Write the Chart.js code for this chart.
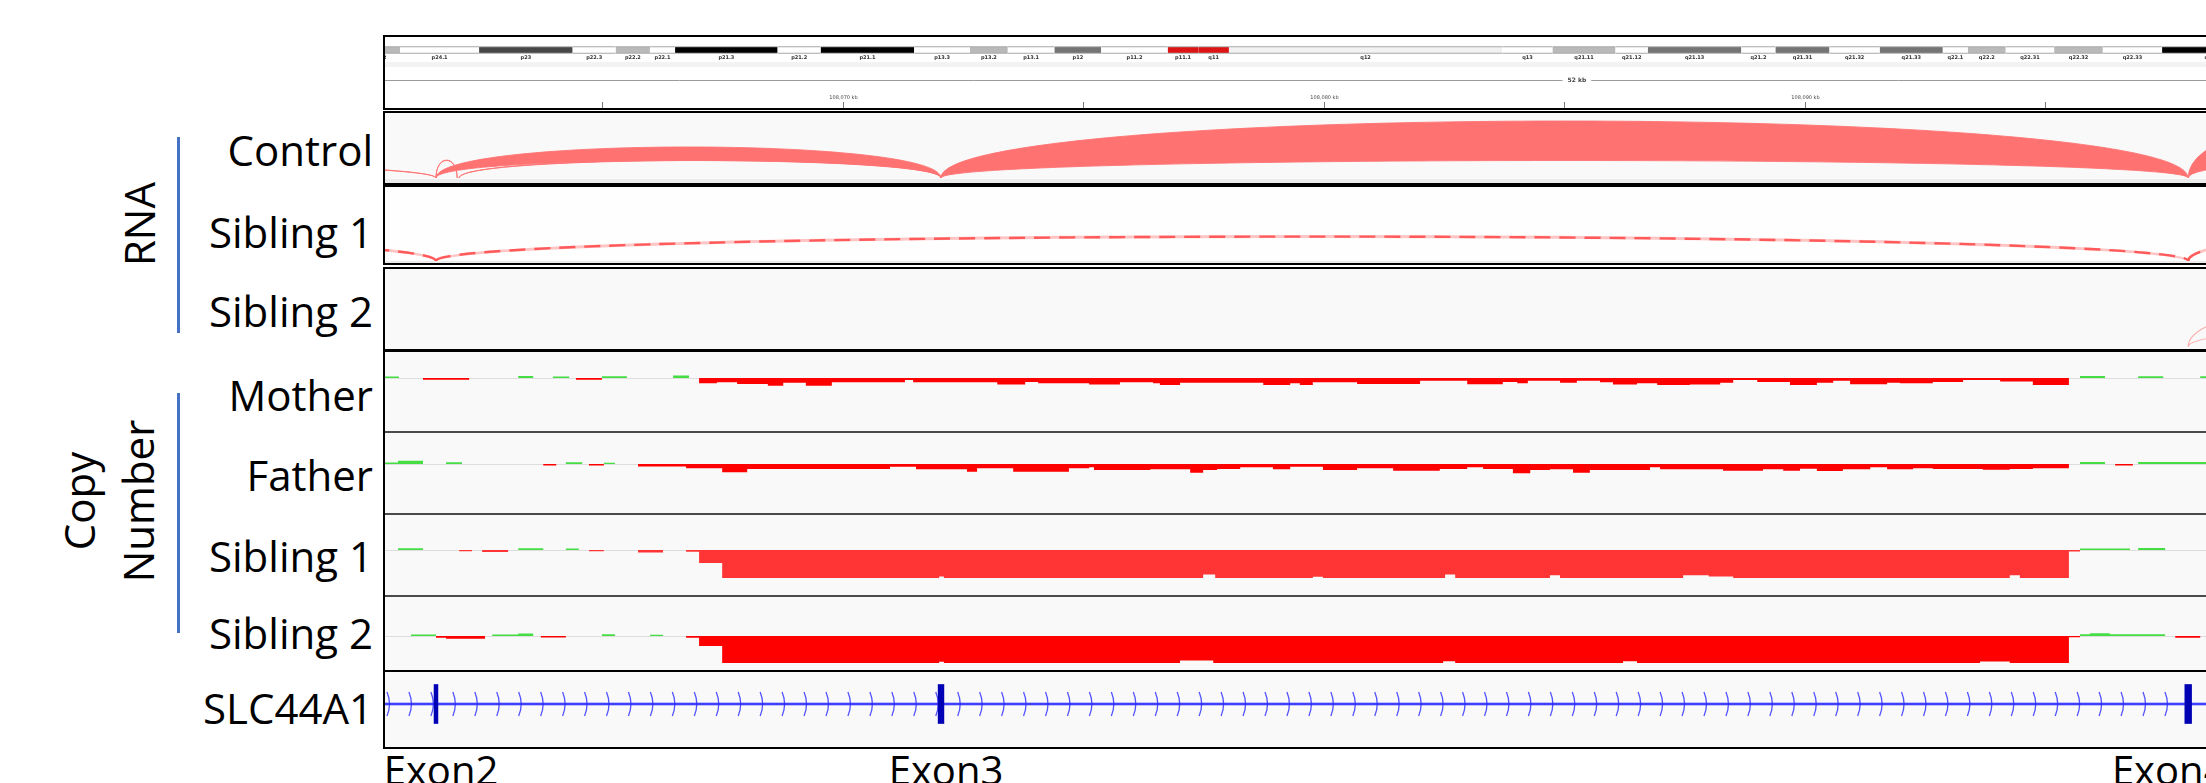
<!DOCTYPE html>
<html>
<head>
<meta charset="utf-8">
<script src="https://cdn.jsdelivr.net/npm/chart.js@4.4.1/dist/chart.umd.min.js"></script>
<style>
html, body { margin: 0; padding: 0; background: #fff; width: 2206px; height: 783px; overflow: hidden; font-family: 'Open Sans', sans-serif; }
.box { position: absolute; box-sizing: border-box; border: 2px solid #000; left: 383px; width: 1840px; background: #f9f9f9; }
.lbl { position: absolute; left: 0; width: 373px; text-align: right; font-size: 42px; line-height: 42px; color: #000; white-space: nowrap; }
.rot { position: absolute; font-size: 42px; color: #000; white-space: nowrap; text-align: center; transform: translate(-50%, -50%) rotate(-90deg); }
.vbar { position: absolute; left: 177px; width: 3px; background: #4472c4; }
.sep { position: absolute; left: 385px; width: 1830px; height: 2px; background: #4a4a4a; }
.exon { position: absolute; top: 749px; font-size: 40px; line-height: 42px; color: #000; white-space: nowrap; transform: translateX(-50%); }
canvas { position: absolute; left: 385px; }
</style>
</head>
<body>

<!-- track frames -->
<div class="box" style="top:35px;height:75px;background:#fff;"></div>
<div style="position:absolute;left:385px;top:62px;width:1830px;height:5px;background:#f3f3f3;"></div>
<div class="box" style="top:111px;height:74px;background:linear-gradient(#f9f9f9 0 66px,#ececec 66px);"></div>
<div class="box" style="top:185px;height:80px;background:linear-gradient(#fefefe 0 74px,#ececec 74px);"></div>
<div class="box" style="top:267px;height:84px;"></div>
<div class="box" style="top:350px;height:322px;"></div>
<div class="sep" style="top:431px;"></div>
<div class="sep" style="top:513px;"></div>
<div class="sep" style="top:595px;"></div>
<div class="box" style="top:670px;height:79px;"></div>

<!-- left labels -->
<div class="rot" style="left:139px;top:224px;line-height:42px;">RNA</div>
<div class="vbar" style="top:137px;height:196px;"></div>
<div class="rot" style="left:108px;top:501px;line-height:59px;">Copy<br>Number</div>
<div class="vbar" style="top:393px;height:240px;"></div>

<div class="lbl" style="top:129px;">Control</div>
<div class="lbl" style="top:211px;">Sibling 1</div>
<div class="lbl" style="top:290px;">Sibling 2</div>
<div class="lbl" style="top:374px;">Mother</div>
<div class="lbl" style="top:454px;">Father</div>
<div class="lbl" style="top:535px;">Sibling 1</div>
<div class="lbl" style="top:612px;">Sibling 2</div>
<div class="lbl" style="top:687px;">SLC44A1</div>

<script>
// view windows
const viewStart = 108060.48;   // kb at the left edge of the data panel
const viewEnd = 108098.34;     // kb at the right edge (figure is cut there)
const viewSpanKb = 52;         // span printed on the IGV ruler
const viewCenterKb = 108085.26;
const ideoStart = 3.766, ideoEnd = 105.04;   // Mb shown in the ideogram strip

// chr9 cytobands (Mb)
const bandName = ['p24.3','p24.2','p24.1','p23','p22.3','p22.2','p22.1','p21.3','p21.2','p21.1','p13.3','p13.2','p13.1','p12','p11.2','p11.1','q11','q12','q13','q21.11','q21.12','q21.13','q21.2','q21.31','q21.32','q21.33','q22.1','q22.2','q22.31','q22.32','q22.33','q31.1','q31.2'];
const bandStart = [0, 2.2, 4.6, 9.0, 14.2, 16.6, 18.5, 19.9, 25.6, 28.0, 33.2, 36.3, 38.4, 41.0, 43.6, 47.3, 49.0, 50.7, 65.9, 68.7, 72.2, 74.0, 79.2, 81.1, 84.1, 86.9, 90.4, 91.8, 93.9, 96.6, 99.3, 102.6, 108.2];
const bandEnd = [2.2, 4.6, 9.0, 14.2, 16.6, 18.5, 19.9, 25.6, 28.0, 33.2, 36.3, 38.4, 41.0, 43.6, 47.3, 49.0, 50.7, 65.9, 68.7, 72.2, 74.0, 79.2, 81.1, 84.1, 86.9, 90.4, 91.8, 93.9, 96.6, 99.3, 102.6, 108.2, 112.1];
const bandStain = ['gneg','gpos25','gneg','gpos75','gneg','gpos25','gneg','gpos100','gneg','gpos100','gneg','gpos25','gneg','gpos50','gneg','acen','acen','gvar','gneg','gpos25','gneg','gpos50','gneg','gpos50','gneg','gpos50','gneg','gpos25','gneg','gpos25','gneg','gpos100','gneg'];

// splice junctions (kb) and read depth
const controlJxStart = [108037.94, 108061.54, 108062.02, 108061.54, 108072.04, 108097.97];
const controlJxEnd   = [108061.54, 108061.98, 108072.04, 108072.04, 108097.97, 108105.70];
const controlJxDepth = [6, 4, 4, 135, 395, 425];
const sib1JxStart = [108037.94, 108061.54, 108097.97];
const sib1JxEnd   = [108061.54, 108097.97, 108106.00];
const sib1JxDepth = [8, 8, 8];
const sib2JxStart = [108097.97];
const sib2JxEnd   = [108106.00];
const sib2JxDepth = [260];

// copy number segments [start kb, log2 ratio]
const motherCN = [[108060.40,0],[108060.48,0.25],[108060.77,0],[108061.27,-0.3],[108062.23,0],[108063.25,0.35],[108063.56,0],[108063.97,0.25],[108064.31,0],[108064.45,-0.3],[108064.99,0.3],[108065.51,0],[108066.47,0.4],[108066.80,0],
  [108067.01,-0.89],[108067.38,-0.72],[108067.80,-1.0],[108068.44,-1.28],[108068.76,-0.78],[108069.23,-1.28],[108069.77,-0.72],[108071.29,-0.33],[108071.46,-0.72],[108073.21,-1.1],[108073.79,-0.67],[108074.06,-0.89],[108075.12,-1.1],[108075.76,-0.72],[108076.45,-0.89],[108076.59,-1.17],[108077.01,-0.78],[108078.74,-1.17],[108079.30,-0.89],[108079.50,-1.17],[108079.77,-0.72],[108080.69,-1.0],[108082.00,-0.45],[108082.98,-1.05],[108083.72,-0.67],[108084.02,-0.89],[108084.24,-0.45],[108084.91,-0.78],[108085.26,-0.45],[108085.74,-0.72],[108086.01,-1.1],[108086.51,-0.89],[108086.93,-1.17],[108087.61,-1.1],[108088.24,-0.78],[108088.51,-0.33],[108089.01,-0.67],[108089.69,-1.17],[108090.25,-0.78],[108090.59,-0.45],[108090.94,-1.05],[108091.71,-0.78],[108091.98,-0.89],[108092.66,-0.67],[108093.29,-0.33],[108094.06,-0.6],[108094.74,-1.17],
  [108095.49,0],[108095.72,0.35],[108096.24,0],[108096.93,0.3],[108097.45,0],[108098.22,0.3],[108099.00,0]];
const fatherCN = [[108060.40,0],[108060.48,0.25],[108060.75,0.55],[108061.27,0],[108061.75,0.3],[108062.08,0],[108063.77,-0.25],[108064.04,0],[108064.24,0.3],[108064.58,0],[108064.72,-0.25],[108065.03,0.2],[108065.26,0],
  [108065.74,-0.4],[108066.74,-0.72],[108067.49,-1.39],[108068.01,-0.83],[108070.98,-0.44],[108071.52,-0.89],[108072.58,-1.28],[108072.79,-0.72],[108073.54,-1.28],[108074.70,-0.72],[108075.12,-0.56],[108075.22,-1.0],[108076.39,-0.89],[108077.22,-1.44],[108077.49,-1.0],[108077.78,-0.83],[108078.26,-0.56],[108078.94,-0.89],[108079.30,-0.44],[108079.98,-1.0],[108080.69,-0.72],[108081.44,-1.11],[108082.41,-0.83],[108082.98,-0.56],[108083.31,-0.83],[108083.93,-1.56],[108084.29,-1.0],[108084.70,-0.89],[108085.18,-1.44],[108085.53,-1.0],[108086.78,-0.56],[108086.99,-0.89],[108088.30,-1.11],[108089.13,-0.89],[108089.55,-1.11],[108089.90,-0.78],[108090.25,-1.17],[108090.79,-0.89],[108091.36,-0.56],[108091.71,-0.89],[108092.25,-0.72],[108092.66,-0.83],[108093.70,-0.94],[108094.26,-0.83],[108094.74,-0.72],
  [108095.49,0],[108095.72,0.35],[108096.24,0],[108096.45,-0.25],[108096.82,0],[108096.93,0.35],[108099.00,0]];
const sib1CN = [[108060.40,0],[108060.75,0.3],[108061.27,0],[108062.02,-0.2],[108062.29,0],[108062.50,-0.35],[108063.04,0],[108063.25,0.3],[108063.77,0],[108064.24,0.25],[108064.51,0],[108064.72,-0.2],[108065.03,0],[108065.74,-0.4],[108066.26,0],
  [108066.74,-0.3],[108067.01,-2.17],[108067.49,-4.67],[108072.00,-4.4],[108072.10,-4.67],[108077.49,-4.1],[108077.74,-4.67],[108079.77,-4.45],[108079.98,-4.67],[108082.52,-4.1],[108082.73,-4.67],[108084.70,-4.2],[108084.91,-4.67],[108087.47,-4.2],[108088.00,-4.4],[108088.51,-4.67],[108094.26,-4.2],[108094.47,-4.67],
  [108095.49,-0.25],[108095.72,0.25],[108096.76,0],[108096.93,0.35],[108097.49,0],[108099.00,0]];
const sib2CN = [[108060.40,0],[108061.02,0.25],[108061.54,-0.3],[108061.75,-0.45],[108062.56,0],[108062.71,0.25],[108063.25,0.4],[108063.56,0],[108063.72,-0.25],[108064.24,0],[108064.99,0.3],[108065.26,0],[108065.99,0.2],[108066.26,0],
  [108066.74,-0.3],[108067.01,-1.67],[108067.49,-4.5],[108072.00,-4.3],[108072.10,-4.5],[108077.01,-4.1],[108077.70,-4.5],[108082.48,-4.2],[108082.73,-4.5],[108086.22,-4.2],[108086.51,-4.5],[108093.64,-4.25],[108094.26,-4.5],
  [108095.49,-0.2],[108095.72,0.3],[108095.93,0.45],[108096.34,0.3],[108097.49,0],[108097.70,-0.3],[108098.22,0],[108099.00,0]];

// gene model
const geneName = 'SLC44A1';
const geneStart = 108000.0, geneEnd = 108200.0;
const exonNames = ['Exon2', 'Exon3', 'Exon4'];
const exonStart = [108061.50, 108071.98, 108097.90];
const exonEnd   = [108061.58, 108072.10, 108098.04];
const exonLabelNudge = [5, 5, -19];   // caption offsets in px, as placed in the figure

const stainColor = { gneg: '#ffffff', gpos25: '#b9b9b9', gpos50: '#747474', gpos75: '#474747', gpos100: '#000000', acen: '#dc1414', gvar: '#f2f2f2' };
const GREEN = '#44dd44';

function makeCanvas(top, height) {
  const c = document.createElement('canvas');
  c.width = 1821; c.height = height;
  c.style.top = top + 'px';
  c.style.width = '1821px'; c.style.height = height + 'px';
  document.body.appendChild(c);
  return c;
}

// y range from canvas height, baseline offset and units per pixel
function yRange(height, baseline, perPx) {
  return { type: 'linear', display: false, min: -(height - baseline) * perPx, max: baseline * perPx };
}

function baseOptions(xMin, xMax, yScale) {
  return {
    responsive: false, animation: false, events: [],
    layout: { padding: 0 },
    plugins: { legend: { display: false }, tooltip: { enabled: false } },
    scales: { x: { type: 'linear', display: false, min: xMin, max: xMax }, y: yScale }
  };
}

// ---------- ideogram ----------
const ideoOpts = baseOptions(ideoStart, ideoEnd, { type: 'category', display: false });
ideoOpts.indexAxis = 'y';
new Chart(makeCanvas(38, 24), {
  type: 'bar',
  data: {
    labels: ['chr9'],
    datasets: [{
      data: bandStart.map((s, i) => ({ x: [s, bandEnd[i]], y: 'chr9' })),
      backgroundColor: bandStain.map(s => stainColor[s]),
      borderColor: '#8a8a8a',
      borderWidth: { top: 1, bottom: 1, left: 0, right: 0 },
      borderSkipped: false,
      barThickness: 7
    }]
  },
  options: ideoOpts,
  plugins: [{
    id: 'bandLabels',
    afterDatasetsDraw(chart) {
      const { ctx, scales: { x, y } } = chart;
      const cy = y.getPixelForValue(0) + 8;
      ctx.save();
      ctx.font = 'bold 5px "DejaVu Sans"';
      ctx.fillStyle = '#333';
      ctx.textAlign = 'center';
      ctx.textBaseline = 'middle';
      bandName.forEach((n, i) => {
        const cx = (x.getPixelForValue(bandStart[i]) + x.getPixelForValue(bandEnd[i])) / 2;
        ctx.fillText(n, cx, cy);
      });
      ctx.restore();
    }
  }]
});

// ---------- ruler ----------
const rulerOpts = baseOptions(viewStart, viewEnd, { type: 'linear', display: false, min: 0, max: 1 });
rulerOpts.scales.x.ticks = { stepSize: 5 };
new Chart(makeCanvas(62, 46), {
  type: 'scatter',
  data: { datasets: [] },
  options: rulerOpts,
  plugins: [{
    id: 'ruler',
    afterDraw(chart) {
      const { ctx, chartArea: a, scales: { x } } = chart;
      ctx.save();
      // span line
      const ly = a.top + 18.5;
      const mid = x.getPixelForValue(viewCenterKb);
      const txt = viewSpanKb + ' kb';
      ctx.font = 'bold 6px "DejaVu Sans"';
      const w = ctx.measureText(txt).width;
      ctx.strokeStyle = '#9a9a9a'; ctx.lineWidth = 1;
      ctx.beginPath();
      ctx.moveTo(a.left, ly); ctx.lineTo(mid - w / 2 - 5, ly);
      ctx.moveTo(mid + w / 2 + 5, ly); ctx.lineTo(a.right, ly);
      ctx.stroke();
      ctx.fillStyle = '#444'; ctx.textAlign = 'center'; ctx.textBaseline = 'middle';
      ctx.fillText(txt, mid, ly);
      // ticks
      ctx.font = '5px "DejaVu Sans"';
      ctx.strokeStyle = '#777';
      x.ticks.forEach(t => {
        const v = t.value;
        if (Math.abs(v / 5 - Math.round(v / 5)) > 1e-6) return;
        const px = Math.round(x.getPixelForValue(v)) + 0.5;
        ctx.beginPath(); ctx.moveTo(px, a.bottom - 6); ctx.lineTo(px, a.bottom); ctx.stroke();
        if (Math.abs(v / 10 - Math.round(v / 10)) < 1e-6) {
          ctx.fillText(Math.round(v).toLocaleString('en-US') + ' kb', px, a.bottom - 10);
        }
      });
      ctx.restore();
    }
  }]
});

// ---------- sashimi tracks ----------
function arcPlugin(starts, ends, depths, st) {
  return {
    id: 'junctionArcs',
    afterDatasetsDraw(chart) {
      const { ctx, chartArea: a, scales: { x, y } } = chart;
      const yb = y.getPixelForValue(0);
      const ctrl = v => yb - (yb - y.getPixelForValue(v)) / 0.75;
      ctx.save();
      ctx.beginPath(); ctx.rect(a.left, a.top, a.width, a.height); ctx.clip();
      starts.forEach((s, i) => {
        const x0 = x.getPixelForValue(s), x1 = x.getPixelForValue(ends[i]);
        if (st.dashed) {
          const c1 = ctrl(st.base + depths[i] / 2);
          ctx.beginPath(); ctx.moveTo(x0, yb); ctx.bezierCurveTo(x0, c1, x1, c1, x1, yb);
          ctx.setLineDash([]); ctx.lineWidth = 3; ctx.strokeStyle = 'rgba(255,140,140,0.5)'; ctx.stroke();
          ctx.setLineDash([16, 9]); ctx.lineWidth = 2.4; ctx.strokeStyle = 'rgba(255,70,70,0.85)'; ctx.stroke();
          ctx.setLineDash([]);
          return;
        }
        const cIn = ctrl(st.base), cOut = ctrl(st.base + depths[i]);
        ctx.beginPath();
        ctx.moveTo(x0, yb);
        ctx.bezierCurveTo(x0, cOut, x1, cOut, x1, yb);
        ctx.bezierCurveTo(x1, cIn, x0, cIn, x0, yb);
        ctx.closePath();
        if (st.fill) { ctx.fillStyle = st.fill; ctx.fill(); }
        ctx.lineWidth = st.width; ctx.strokeStyle = st.stroke; ctx.stroke();
      });
      ctx.restore();
    }
  };
}

function sashimi(top, height, baseline, starts, ends, depths, style) {
  new Chart(makeCanvas(top, height), {
    type: 'scatter',
    data: { datasets: [{ data: starts.concat(ends).map(v => ({ x: v, y: 0 })), pointRadius: 0 }] },
    options: baseOptions(viewStart, viewEnd, yRange(height, baseline, 10)),
    plugins: [arcPlugin(starts, ends, depths, style)]
  });
}

sashimi(113, 70, 65, controlJxStart, controlJxEnd, controlJxDepth,
  { base: 175, fill: '#ff7272', stroke: 'rgba(255,115,115,0.9)', width: 1 });
sashimi(187, 76, 74, sib1JxStart, sib1JxEnd, sib1JxDepth, { base: 240, dashed: true });
sashimi(269, 80, 78, sib2JxStart, sib2JxEnd, sib2JxDepth,
  { base: 180, fill: null, stroke: 'rgba(255,120,120,0.6)', width: 1.2 });

// ---------- copy number tracks ----------
const baselinePlugin = {
  id: 'baseline',
  beforeDatasetsDraw(chart) {
    const { ctx, chartArea: a, scales: { y } } = chart;
    const yy = Math.round(y.getPixelForValue(0)) + 0.5;
    ctx.save();
    ctx.strokeStyle = '#dddddd'; ctx.lineWidth = 1;
    ctx.beginPath(); ctx.moveTo(a.left, yy); ctx.lineTo(a.right, yy); ctx.stroke();
    ctx.restore();
  }
};

function cnTrack(top, height, baseline, segs, red) {
  new Chart(makeCanvas(top, height), {
    type: 'line',
    data: {
      datasets: [{
        data: segs.map(([x, y]) => ({ x, y })),
        stepped: 'before',
        pointRadius: 0,
        borderWidth: 0,
        borderColor: 'rgba(0,0,0,0)',
        fill: { target: 'origin', above: GREEN, below: red }
      }]
    },
    options: baseOptions(viewStart, viewEnd, yRange(height, baseline, 1 / 6)),
    plugins: [baselinePlugin]
  });
}

cnTrack(352, 79, 26, motherCN, '#ff0000');
cnTrack(433, 80, 31, fatherCN, '#ff0000');
cnTrack(515, 80, 35, sib1CN, '#ff3535');
cnTrack(597, 73, 39, sib2CN, '#ff0000');

// ---------- gene track ----------
const geneOpts = baseOptions(viewStart, viewEnd, { type: 'category', display: false });
geneOpts.indexAxis = 'y';
const geneChart = new Chart(makeCanvas(673, 62), {
  type: 'bar',
  data: {
    labels: [geneName],
    datasets: [{
      data: exonStart.map((s, i) => ({ x: [s, exonEnd[i]], y: geneName })),
      backgroundColor: '#0000b4',
      barThickness: 39,
      borderSkipped: false
    }]
  },
  options: geneOpts,
  plugins: [{
    id: 'intron',
    beforeDatasetsDraw(chart) {
      const { ctx, chartArea: a, scales: { x, y } } = chart;
      const cy = y.getPixelForValue(0);
      const xa = Math.max(a.left, x.getPixelForValue(geneStart));
      const xb = Math.min(a.right, x.getPixelForValue(geneEnd));
      ctx.save();
      ctx.strokeStyle = 'rgba(90,90,255,0.35)'; ctx.lineWidth = 4;
      ctx.beginPath(); ctx.moveTo(xa, cy); ctx.lineTo(xb, cy); ctx.stroke();
      ctx.strokeStyle = '#1414ff'; ctx.lineWidth = 1.6;
      ctx.beginPath(); ctx.moveTo(xa, cy); ctx.lineTo(xb, cy); ctx.stroke();
      ctx.strokeStyle = 'rgba(40,40,255,0.8)'; ctx.lineWidth = 1.3;
      ctx.beginPath();
      for (let cx = xa + 4; cx < xb; cx += 21.95) {
        ctx.moveTo(cx - 2, cy - 12);
        ctx.quadraticCurveTo(cx + 3, cy, cx - 2, cy + 12);
      }
      ctx.stroke();
      ctx.restore();
    }
  }]
});

// exon captions under the gene track
const gx = geneChart.scales.x;
exonNames.forEach((n, i) => {
  const d = document.createElement('div');
  d.className = 'exon';
  d.textContent = n;
  d.style.left = (385 + gx.getPixelForValue((exonStart[i] + exonEnd[i]) / 2) + exonLabelNudge[i]) + 'px';
  document.body.appendChild(d);
});
</script>
</body>
</html>
